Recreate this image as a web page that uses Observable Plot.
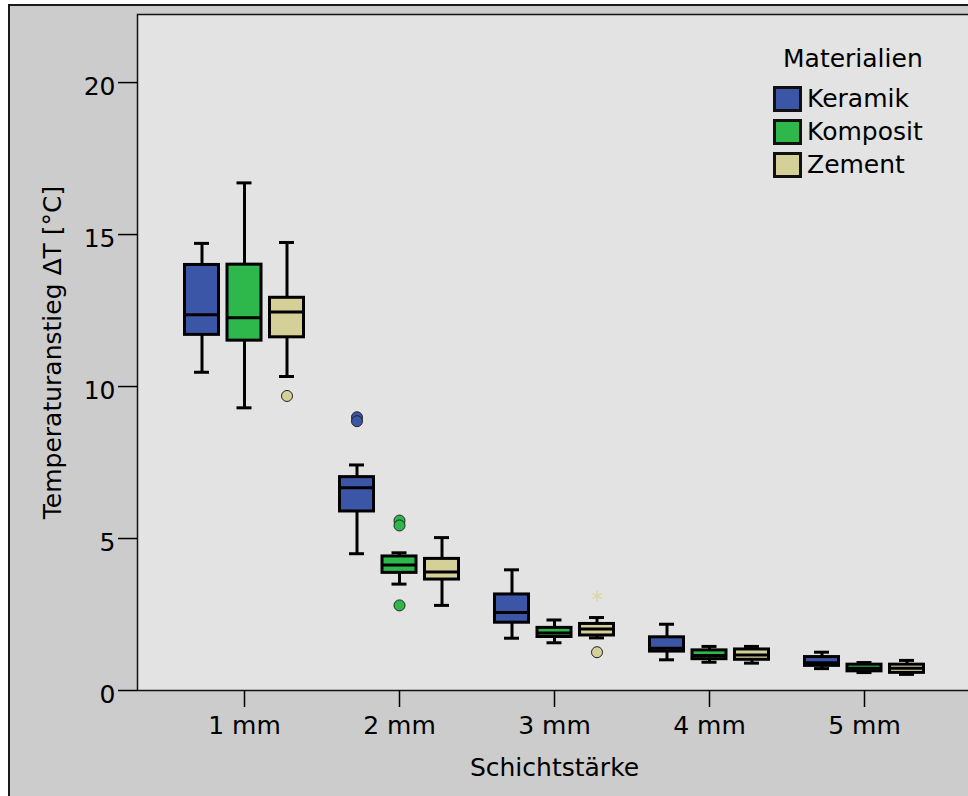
<!DOCTYPE html>
<html>
<head>
<meta charset="utf-8">
<script src="https://cdn.jsdelivr.net/npm/d3@7"></script>
<script src="https://cdn.jsdelivr.net/npm/@observablehq/plot@0.6"></script>
<style>
  html, body { margin: 0; padding: 0; background: #ffffff; overflow: hidden; }
  #chart { position: relative; width: 968px; height: 796px; overflow: hidden; font-family: "DejaVu Sans", sans-serif; }
  #panel { position: absolute; left: 8px; top: 4px; width: 980px; height: 810px; background: #cccccc; border: 2px solid #1a1a1a; box-sizing: border-box; }
  #plot { position: absolute; left: 0; top: 0; }
  #legend { position: absolute; left: 773px; top: 44px; color: #000; font-size: 25px; }
  #legend .title { margin-left: 10px; line-height: 30px; margin-bottom: 8px; }
  #legend .row { display: flex; align-items: center; height: 33px; }
  #legend .sw { width: 29px; height: 26px; border: 3px solid #111; box-sizing: border-box; margin-right: 5px; }
</style>
</head>
<body>
<div id="chart">
  <div id="panel"></div>
  <div id="plot"></div>
  <div id="legend"></div>
</div>
<script>
const categories = ["1 mm", "2 mm", "3 mm", "4 mm", "5 mm"];
const materials = ["Keramik", "Komposit", "Zement"];
const colors = ["#3c56a7", "#2eb84b", "#d5cf98"];
const yTicks = [0, 5, 10, 15, 20];

// rows: material (Keramik, Komposit, Zement); columns: category (1..5 mm)
const whiskerLow = [
  [10.47, 4.50, 1.72, 1.01, 0.72],
  [9.30, 3.50, 1.57, 0.93, 0.59],
  [10.33, 2.80, 1.73, 0.90, 0.53]
];
const quartile1 = [
  [11.70, 5.89, 2.23, 1.28, 0.81],
  [11.51, 3.87, 1.76, 1.03, 0.63],
  [11.62, 3.65, 1.81, 1.01, 0.58]
];
const medians = [
  [12.36, 6.67, 2.57, 1.39, 0.91],
  [12.26, 4.13, 1.89, 1.15, 0.73],
  [12.45, 3.90, 2.02, 1.17, 0.73]
];
const quartile3 = [
  [14.00, 7.02, 3.16, 1.75, 1.10],
  [14.01, 4.41, 2.06, 1.32, 0.85],
  [12.92, 4.33, 2.19, 1.35, 0.85]
];
const whiskerHigh = [
  [14.71, 7.42, 3.97, 2.18, 1.26],
  [16.70, 4.53, 2.32, 1.45, 0.92],
  [14.74, 5.03, 2.40, 1.45, 0.99]
];

const outlierCategory = ["1 mm", "2 mm", "2 mm", "2 mm", "2 mm", "2 mm", "3 mm"];
const outlierMaterial = ["Zement", "Keramik", "Keramik", "Komposit", "Komposit", "Komposit", "Zement"];
const outlierValue = [9.69, 8.99, 8.86, 5.59, 5.43, 2.80, 1.26];

const extremeCategory = ["3 mm"];
const extremeMaterial = ["Zement"];
const extremeValue = [3.11];

const boxes = [];
materials.forEach((m, i) => categories.forEach((c, j) => {
  boxes.push({cat: c, material: m, lo: whiskerLow[i][j], q1: quartile1[i][j], med: medians[i][j], q3: quartile3[i][j], hi: whiskerHigh[i][j]});
}));
const outliers = outlierValue.map((v, k) => ({cat: outlierCategory[k], material: outlierMaterial[k], value: v}));
const extremes = extremeValue.map((v, k) => ({cat: extremeCategory[k], material: extremeMaterial[k], value: v}));

const groupStep = 42.5;   // pixel offset between boxes of a group
const capInset = 9.5;

function materialMarks(m, i) {
  const dx = (i - 1) * groupStep;
  const f = d => d.material === m;
  return [
    Plot.ruleX(boxes, {filter: f, x: "cat", y1: "lo", y2: "hi", dx, stroke: "#000", strokeWidth: 3}),
    Plot.tickY(boxes, {filter: f, x: "cat", y: "lo", dx, stroke: "#000", strokeWidth: 3, insetLeft: capInset, insetRight: capInset}),
    Plot.tickY(boxes, {filter: f, x: "cat", y: "hi", dx, stroke: "#000", strokeWidth: 3, insetLeft: capInset, insetRight: capInset}),
    Plot.barY(boxes, {filter: f, x: "cat", y1: "q1", y2: "q3", dx, fill: "material", stroke: "#000", strokeWidth: 3}),
    Plot.tickY(boxes, {filter: f, x: "cat", y: "med", dx, stroke: "#000", strokeWidth: 3}),
    Plot.dot(outliers, {filter: f, x: "cat", y: "value", dx, fill: "material", stroke: "#222", strokeWidth: 1, r: 5.5}),
    Plot.dot(extremes, {filter: f, x: "cat", y: "value", dx, symbol: "asterisk", stroke: "#dcd6a6", strokeWidth: 1.6, r: 5})
  ];
}

const chart = Plot.plot({
  width: 968,
  height: 796,
  marginLeft: 137,
  marginTop: 14,
  marginBottom: 106,
  marginRight: -3,
  style: {fontFamily: "DejaVu Sans, sans-serif", fontSize: "25px", background: "transparent", color: "#000"},
  x: {domain: categories, paddingInner: 0.781, paddingOuter: 0.572},
  y: {domain: [0, 22.24]},
  color: {domain: materials, range: colors},
  marks: [
    Plot.frame({fill: "#e3e3e3"}),
    ...materials.flatMap(materialMarks),
    Plot.frame({stroke: "#111", strokeWidth: 1.5}),
    Plot.axisY({ticks: yTicks, tickSize: 19, tickFormat: () => "", strokeWidth: 1.5}),
    Plot.axisY({ticks: yTicks, tickSize: 0, tickPadding: 22, dy: 4.5, fontSize: 25,
      label: "Temperaturanstieg ΔT [°C]", labelAnchor: "center", labelArrow: "none", labelOffset: 94, labelDy: 0}),
    Plot.axisX({ticks: categories, tickSize: 17, tickPadding: 9, fontSize: 25, strokeWidth: 1.5,
      label: "Schichtstärke", labelAnchor: "center", labelArrow: "none", labelOffset: 85})
  ]
});
document.getElementById("plot").appendChild(chart);

const legend = document.getElementById("legend");
const title = document.createElement("div");
title.className = "title";
title.textContent = "Materialien";
legend.appendChild(title);
materials.forEach((m, i) => {
  const row = document.createElement("div");
  row.className = "row";
  const sw = document.createElement("div");
  sw.className = "sw";
  sw.style.background = colors[i];
  const label = document.createElement("span");
  label.textContent = m;
  row.appendChild(sw);
  row.appendChild(label);
  legend.appendChild(row);
});
</script>
</body>
</html>
